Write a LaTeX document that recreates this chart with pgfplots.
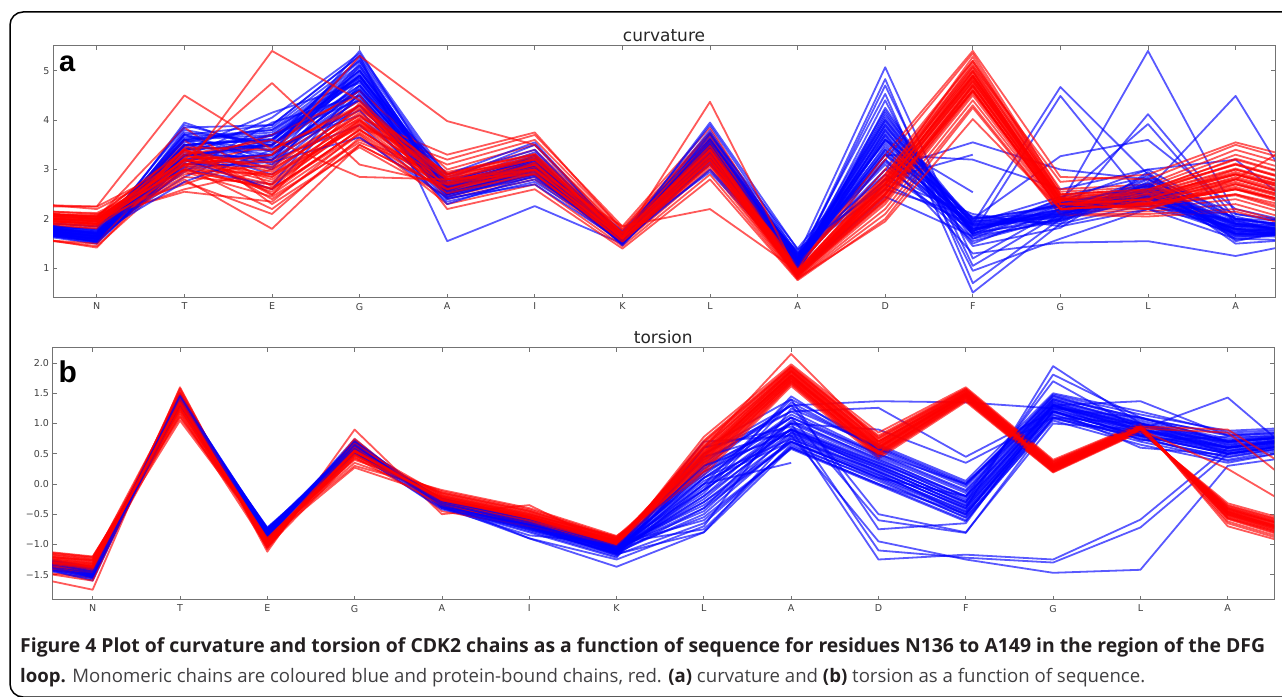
\documentclass[border=0pt]{standalone}
\usepackage{fontspec}
\usepackage{pgfplots}
\usepackage{pgfplotstable}
\pgfplotsset{compat=1.18}
\setmainfont{DejaVu Sans}
\newfontfamily\dejavu{DejaVu Sans}
\newfontfamily\capfont{Open Sans}
\newfontfamily\panelfont{Liberation Sans}
\definecolor{mblue}{rgb}{0,0,1}
\definecolor{mred}{rgb}{1,0,0}
\definecolor{axgray}{gray}{0.45}
\definecolor{capdark}{HTML}{231F20}
\definecolor{capreg}{HTML}{414042}
\newlength\capw
\newlength\capwb

% curvature, monomeric (blue): rows = residue position, columns = chains
\pgfplotstableread{
x c1 c2 c3 c4 c5 c6 c7 c8 c9 c10 c11 c12 c13 c14 c15 c16 c17 c18 c19 c20 c21 c22 c23 c24 c25 c26 c27 c28
-1 1.72 1.75 1.78 1.80 1.82 1.84 1.85 1.87 1.88 1.90 1.91 1.92 1.93 1.94 1.95 1.96 1.97 1.98 1.99 2.00 1.86 1.79 1.93 1.83 1.89 1.76 1.95 1.81
0 1.60 1.55 1.70 1.50 1.75 1.65 1.58 1.80 1.68 1.52 1.72 1.62 1.78 1.57 1.66 1.85 1.63 1.74 1.54 1.69 1.64 1.59 1.71 1.53 1.77 1.67 1.61 1.73
1 3.10 3.45 2.85 3.70 3.25 3.90 3.00 3.55 3.35 3.80 2.95 3.60 3.15 3.95 3.40 3.05 3.75 3.20 3.65 2.75 3.50 3.30 3.85 3.12 3.62 3.28 3.72 3.48
2 3.30 2.90 3.60 3.10 4.05 3.45 2.70 3.85 3.20 3.50 3.95 3.00 3.70 3.35 4.15 3.15 3.55 2.60 3.80 3.40 3.62 3.25 3.90 3.05 3.75 3.48 3.18 3.68
3 4.60 4.30 5.00 4.80 5.35 4.10 4.70 5.20 3.90 4.95 4.50 5.10 4.40 5.40 4.75 3.65 5.25 4.55 4.85 4.20 4.90 4.65 5.30 4.45 5.05 4.85 5.15 4.62
4 2.60 2.45 2.75 2.50 2.85 2.40 2.65 2.55 2.35 2.70 2.62 2.48 2.80 2.58 2.68 2.42 2.72 2.52 2.90 2.30 2.66 2.52 2.78 2.44 2.60 2.70 2.56 2.64
5 3.05 2.90 3.25 2.95 3.40 2.80 3.15 3.00 2.75 3.30 3.10 2.85 3.50 3.08 3.20 2.70 3.35 2.98 3.55 2.88 3.12 3.00 3.22 2.92 3.28 3.06 3.18 3.02
6 1.55 1.60 1.50 1.68 1.58 1.72 1.48 1.62 1.65 1.52 1.70 1.57 1.63 1.46 1.75 1.54 1.66 1.59 1.61 1.50 1.58 1.64 1.53 1.69 1.56 1.62 1.60 1.67
7 3.40 3.20 3.65 3.30 3.80 3.10 3.55 3.45 2.95 3.70 3.50 3.25 3.90 3.35 3.60 3.00 3.75 3.38 3.95 3.15 3.52 3.32 3.72 3.42 3.62 3.22 3.58 3.48
8 1.10 1.20 1.00 1.30 1.15 1.35 0.95 1.25 1.05 1.40 0.90 1.18 1.28 1.08 1.32 1.12 1.22 0.88 1.38 1.02 1.16 1.24 1.06 1.30 1.12 1.20 1.26 1.10
9 3.40 3.00 3.90 2.60 4.20 3.20 3.70 2.80 4.00 3.55 2.45 3.85 3.10 4.10 2.90 3.65 3.30 4.25 2.70 3.80 3.75 3.45 4.15 3.15 3.95 3.60 3.35 4.05
10 1.80 1.95 1.60 2.05 1.70 1.90 1.50 2.10 1.75 1.85 1.65 2.00 1.55 1.92 1.78 1.45 1.98 1.68 1.88 1.72 1.82 1.96 1.66 1.88 1.76 2.02 1.70 1.86
11 2.10 2.00 2.30 1.90 2.40 2.05 2.20 1.85 2.35 2.15 1.95 2.25 2.02 2.45 2.12 1.82 2.28 2.08 2.18 1.98 2.14 2.06 2.26 1.96 2.20 2.10 2.32 2.04
12 2.50 2.70 2.30 2.90 2.40 2.80 2.60 2.20 3.00 2.55 2.75 2.35 2.65 2.85 2.45 2.95 2.25 2.58 2.68 2.48 2.62 2.52 2.72 2.42 2.82 2.56 2.66 2.46
13 1.80 1.65 1.95 1.55 2.05 1.70 1.85 1.60 2.00 1.75 1.50 1.90 1.68 2.10 1.78 1.58 1.98 1.72 1.88 1.62 1.82 1.74 1.92 1.66 1.96 1.78 1.86 1.70
14 1.70 1.80 1.60 1.90 1.65 1.75 1.85 1.55 1.95 1.72 1.62 1.82 1.68 1.88 1.58 1.78 1.52 1.92 1.66 1.76 1.74 1.68 1.82 1.62 1.86 1.72 1.78 1.64
}\CB

% curvature, protein-bound (red)
\pgfplotstableread{
x c1 c2 c3 c4 c5 c6 c7 c8 c9 c10 c11 c12 c13 c14 c15 c16 c17 c18 c19 c20 c21 c22 c23 c24 c25 c26 c27 c28
-1 2.00 2.10 1.95 2.20 2.05 1.65 2.15 1.98 2.35 2.08 1.90 2.12 1.70 2.02 2.18 2.25 1.93 2.06 2.14 1.62 2.04 1.97 2.11 2.16 2.01 2.09 1.94 2.07
0 1.95 2.05 1.85 2.10 1.90 1.45 2.00 1.88 2.20 1.98 1.82 2.08 1.42 1.93 2.02 2.25 1.80 1.96 2.04 1.50 1.97 1.92 2.06 2.12 1.99 2.03 1.87 2.01
1 3.20 2.90 3.40 2.70 3.30 3.05 2.60 3.50 3.10 2.85 3.60 3.00 3.25 2.75 3.85 3.15 2.95 3.35 2.55 3.45 3.22 3.08 3.38 2.98 3.28 3.12 3.42 3.18
2 2.60 3.10 2.40 3.30 2.80 2.20 3.00 2.50 3.50 2.70 2.30 2.90 3.20 2.10 2.65 3.70 2.45 2.85 2.35 3.40 2.75 2.55 2.95 2.62 3.05 2.85 2.48 3.15
3 3.80 4.20 3.60 4.40 3.90 3.50 4.10 3.70 4.60 4.00 3.45 3.85 4.30 3.65 3.95 4.50 3.55 4.05 3.75 4.25 3.98 3.82 4.15 3.72 4.22 3.92 4.35 4.02
4 2.70 2.50 2.90 2.40 3.10 2.60 2.80 2.30 3.00 2.65 2.45 3.20 2.75 2.55 2.95 2.20 2.85 3.30 2.62 2.72 2.68 2.58 2.82 2.52 2.92 2.74 2.64 2.86
5 3.10 2.90 3.40 2.80 3.60 3.00 3.20 2.70 3.50 3.05 2.85 3.70 3.15 2.95 3.30 2.60 3.25 3.75 3.02 3.12 3.08 2.98 3.22 2.92 3.32 3.14 3.04 3.26
6 1.60 1.55 1.70 1.50 1.80 1.58 1.65 1.45 1.75 1.62 1.52 1.85 1.68 1.57 1.72 1.40 1.66 1.78 1.59 1.63 1.62 1.58 1.68 1.54 1.72 1.64 1.60 1.66
7 3.30 3.10 3.55 3.00 3.75 3.20 3.40 2.90 3.65 3.25 3.05 3.85 3.35 3.15 3.50 2.80 3.45 3.70 3.22 3.32 3.28 3.18 3.45 3.12 3.58 3.36 3.24 3.48
8 0.90 0.85 0.95 0.80 1.05 0.88 0.92 0.78 1.00 0.87 0.82 1.10 0.93 0.84 0.98 0.76 0.91 1.02 0.86 0.89 0.90 0.86 0.94 0.83 0.97 0.91 0.88 0.95
9 2.60 2.40 2.80 2.20 3.00 2.50 2.70 2.10 3.20 2.55 2.30 2.90 2.65 2.45 2.85 2.00 2.75 3.30 2.35 2.62 2.58 2.48 2.72 2.38 2.82 2.64 2.52 2.76
10 4.80 4.60 5.00 4.40 5.20 4.70 4.90 4.30 5.35 4.75 4.50 5.10 4.85 4.65 5.05 4.25 4.95 5.40 4.55 4.78 4.88 4.72 5.08 4.58 5.28 4.98 4.68 5.15
11 2.30 2.20 2.45 2.15 2.60 2.25 2.40 2.10 2.55 2.35 2.18 2.75 2.32 2.22 2.50 2.08 2.38 2.85 2.28 2.42 2.33 2.26 2.42 2.20 2.48 2.36 2.30 2.44
12 2.40 2.25 2.55 2.15 2.70 2.30 2.45 2.10 2.65 2.35 2.20 2.90 2.42 2.28 2.60 2.05 2.50 2.80 2.32 2.38 2.43 2.34 2.52 2.26 2.58 2.46 2.38 2.55
13 2.80 2.50 3.10 2.30 3.40 2.70 2.95 2.20 3.30 2.85 2.40 3.55 2.90 2.60 3.20 2.15 3.00 3.50 2.65 2.75 2.82 2.62 3.02 2.48 3.22 2.92 2.72 3.12
14 2.30 2.00 2.60 1.80 2.90 2.20 2.45 1.75 2.80 2.35 1.90 3.10 2.40 2.10 2.70 1.70 2.50 3.00 2.15 2.25 2.32 2.12 2.52 1.95 2.72 2.42 2.22 2.62
}\CR

% torsion, monomeric (blue)
\pgfplotstableread{
x c1 c2 c3 c4 c5 c6 c7 c8 c9 c10 c11 c12 c13 c14 c15 c16 c17 c18 c19 c20 c21 c22 c23 c24 c25 c26 c27 c28
-1 -1.20 -1.15 -1.25 -1.10 -1.30 -1.18 -1.22 -1.12 -1.28 -1.16 -1.24 -1.14 -1.26 -1.19 -1.21 -1.13 -1.27 -1.17 -1.23 -1.11 -1.19 -1.23 -1.16 -1.26 -1.21 -1.14 -1.24 -1.18
0 -1.45 -1.40 -1.52 -1.38 -1.58 -1.48 -1.42 -1.55 -1.50 -1.44 -1.60 -1.47 -1.41 -1.53 -1.46 -1.39 -1.56 -1.49 -1.43 -1.51 -1.46 -1.50 -1.43 -1.54 -1.48 -1.41 -1.52 -1.45
1 1.40 1.35 1.45 1.32 1.48 1.38 1.42 1.34 1.50 1.37 1.44 1.30 1.46 1.39 1.41 1.33 1.47 1.36 1.43 1.31 1.41 1.38 1.45 1.35 1.43 1.40 1.37 1.46
2 -0.80 -0.75 -0.85 -0.72 -0.90 -0.78 -0.82 -0.74 -0.88 -0.77 -0.84 -0.73 -0.86 -0.79 -0.81 -0.76 -0.89 -0.78 -0.83 -0.92 -0.79 -0.83 -0.76 -0.86 -0.81 -0.74 -0.84 -0.78
3 0.62 0.58 0.68 0.55 0.72 0.60 0.65 0.52 0.70 0.57 0.66 0.50 0.74 0.61 0.63 0.56 0.69 0.59 0.64 0.53 0.63 0.59 0.67 0.56 0.70 0.61 0.65 0.58
4 -0.30 -0.28 -0.35 -0.25 -0.38 -0.32 -0.27 -0.40 -0.33 -0.29 -0.36 -0.24 -0.39 -0.31 -0.34 -0.26 -0.37 -0.30 -0.28 -0.42 -0.31 -0.34 -0.28 -0.37 -0.30 -0.26 -0.35 -0.32
5 -0.65 -0.60 -0.72 -0.58 -0.78 -0.68 -0.62 -0.85 -0.70 -0.64 -0.75 -0.57 -0.80 -0.66 -0.71 -0.61 -0.90 -0.67 -0.63 -0.74 -0.66 -0.70 -0.62 -0.76 -0.68 -0.60 -0.73 -0.64
6 -1.10 -1.05 -1.15 -1.00 -1.20 -1.08 -1.12 -0.98 -1.18 -1.06 -1.14 -1.02 -1.22 -1.09 -1.11 -1.04 -1.25 -1.07 -1.13 -1.16 -1.09 -1.13 -1.05 -1.17 -1.10 -1.03 -1.15 -1.08
7 0.20 -0.30 0.50 -0.60 0.00 0.70 -0.20 -0.75 0.35 -0.45 0.10 -0.10 0.60 -0.55 0.25 -0.35 -0.70 0.45 -0.05 -0.80 -0.25 -0.50 0.15 -0.65 -0.15 0.30 -0.40 0.05
8 0.90 0.70 1.20 0.60 1.40 0.80 1.05 0.65 1.30 0.85 0.75 1.45 0.95 0.58 1.10 0.68 1.25 0.88 1.00 0.78 0.92 0.74 1.15 0.62 1.35 0.82 1.02 0.70
9 0.30 0.10 0.50 0.00 0.65 0.20 0.40 0.05 0.60 0.25 0.15 0.55 0.35 -0.02 0.45 0.12 0.62 0.28 0.38 0.18 0.32 0.22 0.48 0.08 0.58 0.26 0.42 0.15
10 -0.30 -0.50 -0.10 -0.60 0.05 -0.40 -0.20 -0.55 0.00 -0.35 -0.45 -0.05 -0.25 -0.62 -0.15 -0.48 0.02 -0.38 -0.28 -0.52 -0.32 -0.42 -0.12 -0.56 -0.02 -0.36 -0.22 -0.46
11 1.30 1.20 1.45 1.10 1.50 1.25 1.38 1.05 1.42 1.28 1.15 1.48 1.33 1.22 1.40 1.08 1.35 1.18 1.27 1.32 1.31 1.24 1.40 1.14 1.46 1.29 1.36 1.20
12 0.90 0.80 1.05 0.70 1.20 0.85 1.00 0.65 1.10 0.88 0.75 1.15 0.95 0.60 1.02 0.78 0.92 0.82 0.98 0.72 0.91 0.83 1.00 0.74 1.08 0.87 0.96 0.79
13 0.60 0.50 0.75 0.40 0.85 0.55 0.70 0.35 0.80 0.58 0.45 0.88 0.65 0.48 0.72 0.38 0.62 0.52 0.68 0.78 0.62 0.54 0.72 0.44 0.82 0.60 0.68 0.50
14 0.75 0.70 0.85 0.65 0.92 0.72 0.80 0.62 0.88 0.74 0.68 0.95 0.78 0.66 0.82 0.60 0.76 0.71 0.84 0.79 0.77 0.72 0.83 0.67 0.89 0.75 0.81 0.70
}\TB

% torsion, protein-bound (red)
\pgfplotstableread{
x c1 c2 c3 c4 c5 c6 c7 c8 c9 c10 c11 c12 c13 c14 c15 c16 c17 c18 c19 c20 c21 c22 c23 c24 c25 c26 c27 c28
-1 -1.20 -1.10 -1.30 -1.05 -1.40 -1.15 -1.25 -1.08 -1.35 -1.18 -1.28 -1.12 -1.45 -1.22 -1.16 -1.32 -1.06 -1.26 -1.38 -1.14 -1.19 -1.27 -1.13 -1.33 -1.23 -1.09 -1.29 -1.17
0 -1.35 -1.25 -1.45 -1.20 -1.55 -1.30 -1.40 -1.22 -1.50 -1.33 -1.42 -1.28 -1.75 -1.38 -1.26 -1.48 -1.21 -1.36 -1.60 -1.31 -1.34 -1.41 -1.27 -1.46 -1.37 -1.24 -1.43 -1.32
1 1.35 1.20 1.50 1.10 1.58 1.30 1.45 1.15 1.55 1.25 1.40 1.05 1.60 1.32 1.22 1.48 1.12 1.38 1.52 1.28 1.36 1.26 1.46 1.18 1.50 1.33 1.42 1.24
2 -0.95 -0.90 -1.02 -0.86 -1.08 -0.93 -0.98 -0.88 -1.05 -0.94 -1.00 -0.87 -1.12 -0.96 -0.91 -1.04 -0.89 -0.97 -1.06 -0.92 -0.96 -1.01 -0.92 -1.04 -0.98 -0.90 -1.02 -0.94
3 0.55 0.45 0.65 0.40 0.72 0.50 0.60 0.35 0.70 0.52 0.62 0.30 0.90 0.58 0.48 0.68 0.42 0.56 0.75 0.27 0.56 0.49 0.63 0.44 0.67 0.53 0.60 0.47
4 -0.25 -0.18 -0.32 -0.12 -0.40 -0.22 -0.28 -0.15 -0.36 -0.24 -0.30 -0.10 -0.50 -0.26 -0.20 -0.34 -0.14 -0.27 -0.45 -0.21 -0.24 -0.30 -0.19 -0.35 -0.27 -0.16 -0.32 -0.22
5 -0.55 -0.48 -0.62 -0.42 -0.68 -0.52 -0.58 -0.45 -0.65 -0.54 -0.60 -0.40 -0.35 -0.56 -0.50 -0.63 -0.44 -0.57 -0.70 -0.51 -0.54 -0.59 -0.49 -0.64 -0.56 -0.46 -0.61 -0.52
6 -0.95 -0.92 -1.00 -0.88 -1.03 -0.94 -0.97 -0.90 -1.02 -0.93 -0.98 -0.86 -1.05 -0.96 -0.91 -0.99 -0.89 -0.95 -1.01 -0.87 -0.95 -0.99 -0.92 -1.01 -0.96 -0.90 -0.98 -0.94
7 0.45 0.30 0.60 0.20 0.72 0.40 0.55 0.25 0.68 0.42 0.50 0.15 0.78 0.48 0.35 0.62 0.22 0.52 0.70 0.38 0.46 0.36 0.58 0.28 0.64 0.44 0.54 0.32
8 1.80 1.72 1.90 1.65 1.95 1.78 1.85 1.68 1.92 1.76 1.88 1.62 1.98 1.82 1.70 1.87 1.66 1.79 1.94 1.74 1.81 1.74 1.89 1.69 1.93 1.78 1.86 1.71
9 0.60 0.50 0.72 0.45 0.80 0.55 0.66 0.48 0.76 0.58 0.68 0.42 0.85 0.62 0.52 0.70 0.46 0.57 0.78 0.54 0.61 0.53 0.70 0.49 0.75 0.59 0.66 0.51
10 1.48 1.42 1.55 1.38 1.58 1.45 1.50 1.40 1.56 1.46 1.52 1.36 1.60 1.49 1.43 1.53 1.39 1.47 1.57 1.44 1.48 1.43 1.53 1.41 1.55 1.47 1.51 1.45
11 0.28 0.24 0.34 0.20 0.38 0.26 0.31 0.22 0.36 0.27 0.32 0.19 0.40 0.29 0.25 0.33 0.21 0.28 0.37 0.23 0.29 0.25 0.33 0.22 0.35 0.28 0.31 0.24
12 0.93 0.90 0.96 0.88 0.99 0.92 0.94 0.89 0.98 0.93 0.95 0.86 1.00 0.94 0.91 0.96 0.87 0.92 0.97 0.90 0.93 0.91 0.95 0.89 0.97 0.92 0.94 0.90
13 -0.48 -0.40 -0.55 -0.35 -0.62 -0.45 -0.50 -0.38 -0.58 -0.46 -0.52 -0.32 -0.70 -0.49 -0.42 -0.56 -0.36 -0.47 -0.65 -0.44 -0.47 -0.42 -0.53 -0.39 -0.57 -0.45 -0.51 -0.41
14 -0.90 -0.82 -0.98 -0.75 -1.05 -0.86 -0.93 -0.78 -1.02 -0.88 -0.95 -0.72 -1.10 -0.91 -0.84 -0.97 -0.76 -0.89 -1.08 -0.80 -0.89 -0.83 -0.96 -0.79 -1.00 -0.87 -0.93 -0.81
}\TR

\pgfplotsset{
  bl/.style={draw=mblue, line width=1.8pt, draw opacity=0.65, mark=none, line join=round},
  rd/.style={draw=mred, line width=1.8pt, draw opacity=0.65, mark=none, line join=round},
  panel/.style={
    scale only axis,
    xtick={0,...,13},
    xticklabels={N,T,E,G,A,I,K,L,A,D,F,G,L,A},
    tick align=inside,
    major tick length=4pt,
    axis line style={draw=axgray, line width=1pt},
    tick style={draw=axgray, line width=0.8pt},
    tick label style={font=\dejavu\fontsize{9.5}{11}\selectfont, text=black!75},
    xticklabel style={yshift=-1.5pt},
    /pgf/number format/assume math mode=true,
    title style={font=\dejavu\fontsize{17}{20}\selectfont, text=black!85, yshift=-5.5pt},
    clip=true,
  },
}

\begin{document}%
\settowidth\capw{\capfont\fontsize{10}{12}\selectfont\bfseries Figure 4 Plot of curvature and torsion of CDK2 chains as a function of sequence for residues N136 to A149 in the region of the DFG}%
\settowidth\capwb{\capfont\fontsize{10}{12}\selectfont{\bfseries loop.} Monomeric chains are coloured blue and protein-bound chains, red. {\bfseries (a)} curvature and {\bfseries (b)} torsion as a function of sequence.}%
\pgfmathsetmacro\capsize{12450/\capw}%
\pgfmathsetmacro\capsizeb{11250/\capwb}%
\begin{tikzpicture}[x=1pt,y=1pt]
% ---------- panel a: curvature ----------
\begin{axis}[panel, at={(53pt,398pt)}, anchor=south west, width=1222pt, height=252pt,
  xmin=-0.5, xmax=13.45, ymin=0.4, ymax=5.5, ytick={1,2,3,4,5}, title={curvature}]
\addplot[bl] coordinates {(-1,1.85)(0,1.6)(1,3.6)(2,3.8)(3,5.1)(4,2.7)(5,3.2)(6,1.6)(7,3.6)(8,1.25)(9,5.07)(10,1.2)(11,2.2)(12,2.6)(13,1.9)(14,1.7)};
\addplot[bl] coordinates {(-1,1.8)(0,1.55)(1,3.3)(2,3.5)(3,4.9)(4,2.5)(5,3.0)(6,1.55)(7,3.4)(8,1.1)(9,4.83)(10,0.7)(11,2.0)(12,2.4)(13,1.8)(14,1.6)};
\addplot[bl] coordinates {(-1,1.9)(0,1.7)(1,3.5)(2,3.3)(3,4.6)(4,2.6)(5,3.1)(6,1.65)(7,3.5)(8,1.2)(9,4.53)(10,0.51)(11,1.9)(12,2.3)(13,1.7)(14,1.65)};
\addplot[bl] coordinates {(-1,1.75)(0,1.5)(1,3.2)(2,3.6)(3,5.2)(4,2.55)(5,2.95)(6,1.5)(7,3.3)(8,1.0)(9,4.4)(10,0.95)(11,1.6)(12,2.2)(13,1.85)(14,1.7)};
\addplot[bl] coordinates {(-1,1.9)(0,1.7)(1,3.7)(2,3.9)(3,5.3)(4,1.55)(5,2.26)(6,1.5)(7,3.2)(8,1.0)(9,3.8)(10,1.8)(11,2.1)(12,2.5)(13,1.7)(14,1.75)};
\addplot[bl] coordinates {(-1,1.85)(0,1.65)(1,3.4)(2,3.7)(3,4.8)(4,2.7)(5,3.2)(6,1.6)(7,3.6)(8,1.15)(9,3.9)(10,1.9)(11,4.67)(12,2.9)(13,2.0)(14,1.8)};
\addplot[bl] coordinates {(-1,1.8)(0,1.6)(1,3.0)(2,3.2)(3,4.5)(4,2.5)(5,3.0)(6,1.55)(7,3.3)(8,1.05)(9,3.5)(10,1.7)(11,4.49)(12,2.3)(13,1.8)(14,1.7)};
\addplot[bl] coordinates {(-1,1.9)(0,1.7)(1,3.6)(2,3.4)(3,4.9)(4,2.6)(5,3.1)(6,1.6)(7,3.5)(8,1.2)(9,4.0)(10,1.9)(11,2.3)(12,5.4)(13,2.1)(14,1.8)};
\addplot[bl] coordinates {(-1,1.8)(0,1.6)(1,3.3)(2,3.5)(3,4.7)(4,2.6)(5,3.0)(6,1.6)(7,3.4)(8,1.1)(9,3.3)(10,1.6)(11,2.0)(12,4.12)(13,2.0)(14,1.75)};
\addplot[bl] coordinates {(-1,1.85)(0,1.65)(1,3.5)(2,3.6)(3,4.8)(4,2.7)(5,3.2)(6,1.65)(7,3.6)(8,1.2)(9,3.7)(10,1.75)(11,2.4)(12,3.92)(13,1.9)(14,1.7)};
\addplot[bl] coordinates {(-1,1.8)(0,1.6)(1,3.2)(2,3.3)(3,4.4)(4,2.5)(5,3.0)(6,1.55)(7,3.3)(8,1.1)(9,3.6)(10,2.0)(11,3.27)(12,3.6)(13,2.2)(14,1.8)};
\addplot[bl] coordinates {(-1,1.85)(0,1.65)(1,3.4)(2,3.5)(3,4.6)(4,2.6)(5,3.1)(6,1.6)(7,3.4)(8,1.15)(9,3.4)(10,1.8)(11,2.2)(12,2.6)(13,4.49)(14,1.6)};
\addplot[bl] coordinates {(-1,1.8)(0,1.55)(1,3.1)(2,3.2)(3,4.3)(4,2.5)(5,2.9)(6,1.5)(7,3.2)(8,1.0)(9,3.2)(10,1.3)(11,1.52)(12,1.55)(13,1.25)(14,1.6)};
\addplot[bl] coordinates {(-1,1.85)(0,1.6)(1,3.3)(2,3.4)(3,4.7)(4,2.6)(5,3.1)(6,1.6)(7,3.5)(8,1.05)(9,3.0)(10,3.55)(11,3.0)(12,2.8)(13,2.0)(14,1.8)};
\addplot[bl] coordinates {(-1,1.9)(0,1.7)(1,3.6)(2,3.7)(3,5.0)(4,2.7)(5,3.2)(6,1.65)(7,3.6)(8,1.2)(9,2.8)(10,3.3)};
\addplot[bl] coordinates {(-1,1.75)(0,1.55)(1,3.2)(2,3.3)(3,4.5)(4,2.5)(5,3.0)(6,1.55)(7,3.3)(8,1.1)(9,3.6)(10,2.54)};
\addplot[bl] coordinates {(-1,1.85)(0,1.65)(1,3.5)(2,3.6)(3,4.9)(4,2.65)(5,3.15)(6,1.6)(7,3.5)(8,1.15)(9,3.3)(10,3.2)(11,2.6)(12,3.0)(13,3.2)(14,1.8)};
\addplot[bl] coordinates {(-1,1.8)(0,1.6)(1,3.4)(2,3.5)(3,5.0)(4,2.6)(5,3.05)(6,1.6)(7,3.45)(8,1.1)(9,4.7)(10,1.05)(11,2.1)(12,2.7)(13,1.9)(14,1.7)};
\pgfplotsinvokeforeach{1,...,28}{
  \addplot[bl] table[x index=0, y index=#1] {\CB};
  \addplot[rd] table[x index=0, y index=#1] {\CR};
}
\addplot[rd] coordinates {(-1,2.3)(0,2.25)(1,4.5)(2,3.4)(3,4.3)(4,2.9)(5,3.2)(6,1.7)(7,3.4)(8,0.9)(9,2.6)(10,4.8)(11,2.4)(12,2.3)(13,2.8)(14,2.3)};
\addplot[rd] coordinates {(-1,2.1)(0,2.0)(1,3.0)(2,5.4)(3,4.4)(4,2.8)(5,3.0)(6,1.6)(7,3.2)(8,0.85)(9,2.8)(10,5.0)(11,2.3)(12,2.4)(13,3.0)(14,2.5)};
\addplot[rd] coordinates {(-1,2.0)(0,1.9)(1,3.2)(2,4.75)(3,3.1)(4,2.7)(5,3.1)(6,1.65)(7,3.3)(8,0.9)(9,2.5)(10,4.6)(11,2.2)(12,2.3)(13,2.6)(14,2.2)};
\addplot[rd] coordinates {(-1,2.05)(0,1.95)(1,2.8)(2,1.8)(3,3.5)(4,2.6)(5,3.0)(6,1.6)(7,3.2)(8,0.88)(9,2.7)(10,4.9)(11,2.4)(12,2.5)(13,2.9)(14,2.4)};
\addplot[rd] coordinates {(-1,2.1)(0,2.0)(1,3.3)(2,3.6)(3,2.85)(4,2.8)(5,2.9)(6,1.55)(7,3.1)(8,0.9)(9,2.4)(10,4.7)(11,2.3)(12,2.2)(13,2.7)(14,2.3)};
\addplot[rd] coordinates {(-1,2.0)(0,1.9)(1,3.1)(2,3.3)(3,5.3)(4,3.98)(5,3.5)(6,1.7)(7,3.4)(8,0.95)(9,2.9)(10,5.2)(11,2.5)(12,2.6)(13,3.1)(14,2.6)};
\addplot[rd] coordinates {(-1,2.15)(0,2.05)(1,3.4)(2,3.0)(3,4.1)(4,2.9)(5,3.3)(6,1.6)(7,4.37)(8,0.9)(9,2.7)(10,4.85)(11,2.3)(12,2.4)(13,2.9)(14,2.5)};
\addplot[rd] coordinates {(-1,1.95)(0,1.85)(1,3.0)(2,2.6)(3,3.8)(4,2.7)(5,3.0)(6,1.85)(7,2.2)(8,0.95)(9,2.5)(10,4.6)(11,2.2)(12,2.3)(13,2.6)(14,2.2)};
\addplot[rd] coordinates {(-1,2.0)(0,1.9)(1,3.1)(2,2.7)(3,3.9)(4,2.6)(5,3.1)(6,1.6)(7,3.3)(8,0.8)(9,1.95)(10,4.02)(11,2.2)(12,2.3)(13,2.5)(14,2.1)};
\addplot[rd] coordinates {(-1,2.05)(0,1.95)(1,3.2)(2,2.9)(3,4.0)(4,2.8)(5,3.2)(6,1.65)(7,3.4)(8,0.9)(9,2.7)(10,4.9)(11,2.4)(12,2.2)(13,2.8)(14,3.9)};
\node[anchor=base west, inner sep=0, font=\panelfont\fontsize{29}{29}\selectfont\bfseries] at (rel axis cs:0,1) [xshift=6pt, yshift=-26pt] {a};
\end{axis}
% ---------- panel b: torsion ----------
\begin{axis}[panel, at={(52.5pt,96pt)}, anchor=south west, width=1221.5pt, height=252pt,
  xmin=-0.46, xmax=13.53, ymin=-1.92, ymax=2.25,
  ytick={-1.5,-1,-0.5,0,0.5,1,1.5,2},
  yticklabels={−1.5,−1.0,−0.5,0.0,0.5,1.0,1.5,2.0}, title={torsion}]
\addplot[bl] coordinates {(-1,-1.2)(0,-1.45)(1,1.4)(2,-0.8)(3,0.6)(4,-0.3)(5,-0.65)(6,-1.1)(7,0.5)(8,1.3)(9,1.37)(10,1.35)(11,1.25)(12,1.1)(13,0.7)(14,0.8)};
\addplot[bl] coordinates {(-1,-1.18)(0,-1.42)(1,1.38)(2,-0.78)(3,0.64)(4,-0.28)(5,-0.62)(6,-1.05)(7,0.4)(8,1.2)(9,1.26)(10,0.45)(11,1.2)(12,0.9)(13,0.6)(14,0.8)};
\addplot[bl] coordinates {(-1,-1.22)(0,-1.5)(1,1.42)(2,-0.82)(3,0.58)(4,-0.32)(5,-0.7)(6,-1.12)(7,0.3)(8,1.0)(9,0.9)(10,0.35)(11,1.1)(12,1.0)(13,0.5)(14,0.7)};
\addplot[bl] coordinates {(-1,-1.2)(0,-1.47)(1,1.4)(2,-0.8)(3,0.62)(4,-0.3)(5,-0.66)(6,-1.08)(7,0.2)(8,1.1)(9,-0.6)(10,-0.81)(11,1.1)(12,0.8)(13,0.6)(14,0.75)};
\addplot[bl] coordinates {(-1,-1.25)(0,-1.55)(1,1.45)(2,-0.85)(3,0.66)(4,-0.34)(5,-0.72)(6,-1.15)(7,-0.1)(8,0.9)(9,-1.25)(10,-1.17)(11,-1.25)(12,-0.59)(13,0.6)(14,0.8)};
\addplot[bl] coordinates {(-1,-1.15)(0,-1.4)(1,1.35)(2,-0.76)(3,0.56)(4,-0.26)(5,-0.6)(6,-1.02)(7,0.1)(8,1.0)(9,-1.1)(10,-1.22)(11,-1.3)(12,-0.72)(13,0.5)(14,0.7)};
\addplot[bl] coordinates {(-1,-1.2)(0,-1.48)(1,1.44)(2,-0.84)(3,0.6)(4,-0.3)(5,-0.68)(6,-1.1)(7,-0.3)(8,0.8)(9,-0.95)(10,-1.25)(11,-1.47)(12,-1.42)(13,0.3)(14,0.5)};
\addplot[bl] coordinates {(-1,-1.22)(0,-1.5)(1,1.4)(2,-0.8)(3,0.62)(4,-0.31)(5,-0.7)(6,-1.1)(7,0.3)(8,1.3)(9,-0.5)(10,-0.8)(11,1.0)(12,0.9)(13,0.7)(14,0.8)};
\addplot[bl] coordinates {(-1,-1.18)(0,-1.44)(1,1.38)(2,-0.78)(3,0.64)(4,-0.29)(5,-0.64)(6,-1.06)(7,0.6)(8,1.4)(9,-0.75)(10,-0.65)(11,1.3)(12,1.0)(13,0.65)(14,0.78)};
\addplot[bl] coordinates {(-1,-1.2)(0,-1.46)(1,1.41)(2,-0.81)(3,0.61)(4,-0.31)(5,-0.67)(6,-1.09)(7,0.0)(8,0.9)(9,0.2)(10,-0.4)(11,1.95)(12,1.0)(13,0.6)(14,0.8)};
\addplot[bl] coordinates {(-1,-1.21)(0,-1.49)(1,1.43)(2,-0.83)(3,0.63)(4,-0.33)(5,-0.69)(6,-1.11)(7,-0.2)(8,0.85)(9,0.3)(10,-0.3)(11,1.81)(12,1.1)(13,0.7)(14,0.82)};
\addplot[bl] coordinates {(-1,-1.19)(0,-1.45)(1,1.39)(2,-0.79)(3,0.59)(4,-0.29)(5,-0.65)(6,-1.07)(7,-0.4)(8,0.7)(9,0.1)(10,-0.2)(11,1.7)(12,0.9)(13,0.55)(14,0.76)};
\addplot[bl] coordinates {(-1,-1.2)(0,-1.47)(1,1.4)(2,-0.8)(3,0.62)(4,-0.3)(5,-0.67)(6,-1.1)(7,-0.1)(8,0.9)(9,0.35)(10,-0.2)(11,1.3)(12,0.9)(13,1.43)(14,0.2)};
\addplot[bl] coordinates {(-1,-1.2)(0,-1.46)(1,1.4)(2,-0.8)(3,0.6)(4,-0.3)(5,-0.66)(6,-1.08)(7,0.0)(8,0.35)};
\addplot[bl] coordinates {(-1,-1.23)(0,-1.52)(1,1.42)(2,-0.82)(3,0.6)(4,-0.32)(5,-0.9)(6,-1.37)(7,-0.8)(8,0.6)(9,0.0)(10,-0.5)(11,1.2)(12,0.8)(13,0.5)(14,0.7)};
\addplot[bl] coordinates {(-1,-1.2)(0,-1.46)(1,1.4)(2,-0.8)(3,0.62)(4,-0.3)(5,-0.66)(6,-1.1)(7,0.1)(8,1.1)(9,0.5)(10,0.0)(11,1.3)(12,1.37)(13,0.8)(14,0.85)};
\pgfplotsinvokeforeach{1,...,28}{
  \addplot[bl] table[x index=0, y index=#1] {\TB};
  \addplot[rd] table[x index=0, y index=#1] {\TR};
}
\addplot[rd] coordinates {(-1,-1.22)(0,-1.38)(1,1.35)(2,-0.96)(3,0.55)(4,-0.26)(5,-0.55)(6,-0.95)(7,0.6)(8,2.15)(9,0.7)(10,1.5)(11,0.3)(12,0.95)(13,-0.5)(14,-0.9)};
\addplot[rd] coordinates {(-1,-1.2)(0,-1.36)(1,1.33)(2,-0.95)(3,0.56)(4,-0.25)(5,-0.54)(6,-0.94)(7,0.5)(8,1.8)(9,0.6)(10,1.48)(11,0.28)(12,0.95)(13,0.9)(14,0.0)};
\addplot[rd] coordinates {(-1,-1.24)(0,-1.4)(1,1.37)(2,-0.97)(3,0.54)(4,-0.27)(5,-0.56)(6,-0.96)(7,0.4)(8,1.75)(9,0.65)(10,1.46)(11,0.27)(12,0.92)(13,0.85)(14,-0.3)};
\addplot[rd] coordinates {(-1,-1.21)(0,-1.37)(1,1.34)(2,-0.95)(3,0.55)(4,-0.26)(5,-0.55)(6,-0.95)(7,0.45)(8,1.85)(9,0.62)(10,1.5)(11,0.29)(12,0.9)(13,0.25)(14,-0.6)};
\node[anchor=base west, inner sep=0, font=\panelfont\fontsize{30}{30}\selectfont\bfseries] at (rel axis cs:0,1) [xshift=6pt, yshift=-34pt] {b};
\end{axis}
% ---------- caption ----------
\node[anchor=base west, inner sep=0, text=capdark] at (20,44)
  {\capfont\fontsize{\capsize}{\capsize}\selectfont\bfseries Figure 4 Plot of curvature and torsion of CDK2 chains as a function of sequence for residues N136 to A149 in the region of the DFG};
\node[anchor=base west, inner sep=0, text=capreg] at (20,13)
  {\capfont\fontsize{\capsizeb}{\capsizeb}\selectfont{\bfseries\color{capdark}loop.} Monomeric chains are coloured blue and protein-bound chains, red. {\bfseries\color{capdark}(a)} curvature and {\bfseries\color{capdark}(b)} torsion as a function of sequence.};
% ---------- frame ----------
\draw[line width=1.5pt, rounded corners=13pt] (10,-1) rectangle (1300,684);
\pgfresetboundingbox
\path[use as bounding box] (0,0) rectangle (1282,696);
\end{tikzpicture}%
\end{document}
